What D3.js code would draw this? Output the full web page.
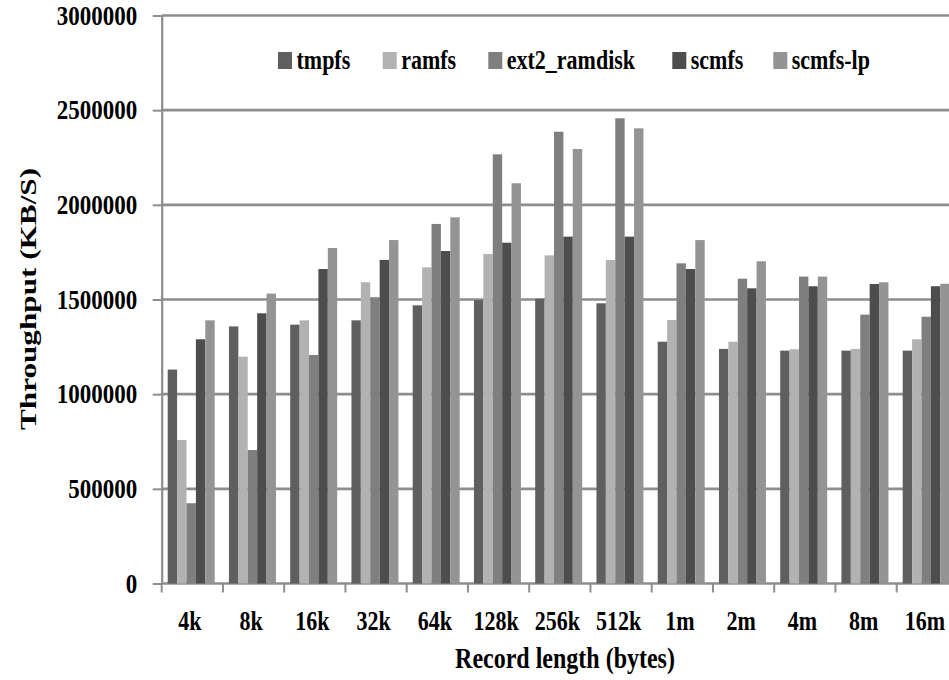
<!DOCTYPE html>
<html>
<head>
<meta charset="utf-8">
<script src="https://cdn.jsdelivr.net/npm/d3@7/dist/d3.min.js"></script>
<style>
  html, body { margin: 0; padding: 0; background: #fff; }
  svg { display: block; }
  text { font-family: "Liberation Serif", "Times New Roman", serif; font-weight: bold; fill: #000; }
</style>
</head>
<body>
<svg id="chart" width="949" height="680"></svg>
<script>
// ---- data ----
const categories = ["4k","8k","16k","32k","64k","128k","256k","512k","1m","2m","4m","8m","16m"];
const seriesNames = ["tmpfs","ramfs","ext2_ramdisk","scmfs","scmfs-lp"];
const tmpfs   = [1130000,1358000,1367000,1390000,1469000,1497000,1504000,1480000,1277000,1239000,1230000,1230000,1230000];
const ramfs   = [758000,1198000,1390000,1591000,1670000,1740000,1733000,1709000,1392000,1277000,1237000,1239000,1290000];
const ext2    = [424000,705000,1207000,1512000,1899000,2267000,2386000,2457000,1691000,1610000,1621000,1420000,1409000];
const scmfs   = [1290000,1427000,1661000,1709000,1756000,1800000,1832000,1832000,1661000,1559000,1570000,1582000,1570000];
const scmfsLp = [1390000,1531000,1772000,1814000,1934000,2114000,2295000,2404000,1814000,1702000,1621000,1591000,1583000];
const yTicks  = [0,500000,1000000,1500000,2000000,2500000,3000000];

const seriesValues = [tmpfs, ramfs, ext2, scmfs, scmfsLp];
const colors = ["#5f5f5f","#b2b2b2","#7f7f7f","#4d4d4d","#949494"];

// ---- layout ----
const W = 949, H = 680;
const x0 = 161.7, bandW = 61.25;
const yBottom = 583.5, yTop = 15.5;
const gridColor = "#8d8d8d";
const legendX = [278, 382.7, 488.3, 672.3, 773.3];

const svg = d3.select("#chart");

const x = d3.scaleBand().domain(categories).range([x0, x0 + bandW * categories.length]).padding(0);
const xs = d3.scaleBand().domain(seriesNames).range([6, 53]).padding(0);
const y = d3.scaleLinear().domain([0, 3000000]).range([yBottom, yTop]);

// gridlines
svg.append("g").selectAll("line").data(yTicks).join("line")
  .attr("x1", x0).attr("x2", W)
  .attr("y1", d => y(d)).attr("y2", d => y(d))
  .attr("stroke", gridColor).attr("stroke-width", 2.6);

// bars
const table = [];
categories.forEach((c, i) => seriesNames.forEach((s, j) => table.push({c, s, j, v: seriesValues[j][i]})));
svg.append("g").selectAll("rect").data(table).join("rect")
  .attr("x", d => x(d.c) + xs(d.s))
  .attr("width", xs.bandwidth())
  .attr("y", d => y(d.v))
  .attr("height", d => y(0) - y(d.v))
  .attr("fill", d => colors[d.j]);

// y axis
const yAxis = d3.axisLeft(y).tickValues(yTicks).tickFormat(d3.format("d")).tickSize(9).tickSizeOuter(0);
const gy = svg.append("g").attr("transform", `translate(${x0},0)`).call(yAxis);
gy.select(".domain").attr("stroke", gridColor).attr("stroke-width", 2.2);
gy.selectAll(".tick line").attr("stroke", gridColor).attr("stroke-width", 2);
gy.selectAll(".tick text")
  .attr("x", null).attr("dy", null).attr("y", null)
  .attr("text-anchor", "end")
  .attr("font-size", 23)
  .attr("font-family", "Liberation Serif").attr("font-weight", "bold")
  .attr("transform", "translate(-24.5,8.6) scale(1,1.22)");

// x axis (ticks at band boundaries)
const bounds = categories.map(c => x(c));
const gx = svg.append("g");
gx.selectAll("line").data(bounds).join("line")
  .attr("x1", d => d).attr("x2", d => d)
  .attr("y1", yBottom).attr("y2", yBottom + 9)
  .attr("stroke", gridColor).attr("stroke-width", 2);
gx.selectAll("text").data(categories).join("text")
  .attr("text-anchor", "middle")
  .attr("font-size", 22)
  .attr("transform", d => `translate(${x(d) + x.bandwidth() / 2 - 2.5},629.5) scale(1,1.22)`)
  .text(d => d);

// axis titles
svg.append("text")
  .attr("text-anchor", "middle")
  .attr("font-size", 24)
  .attr("transform", "translate(565,668) scale(1,1.25)")
  .text("Record length (bytes)");

svg.append("text")
  .attr("text-anchor", "middle")
  .attr("font-size", 24)
  .attr("transform", "translate(36,299) scale(1,1.3) rotate(-90)")
  .text("Throughput (KB/S)");

// legend
const lg = svg.append("g").selectAll("g").data(seriesNames).join("g")
  .attr("transform", (d, i) => `translate(${legendX[i]},0)`);
lg.append("rect").attr("x", 0).attr("y", 52).attr("width", 14).attr("height", 17)
  .attr("fill", (d, i) => colors[i]);
lg.append("text")
  .attr("font-size", 22)
  .attr("transform", "translate(18.5,69) scale(1,1.2)")
  .text(d => d);
</script>
</body>
</html>
